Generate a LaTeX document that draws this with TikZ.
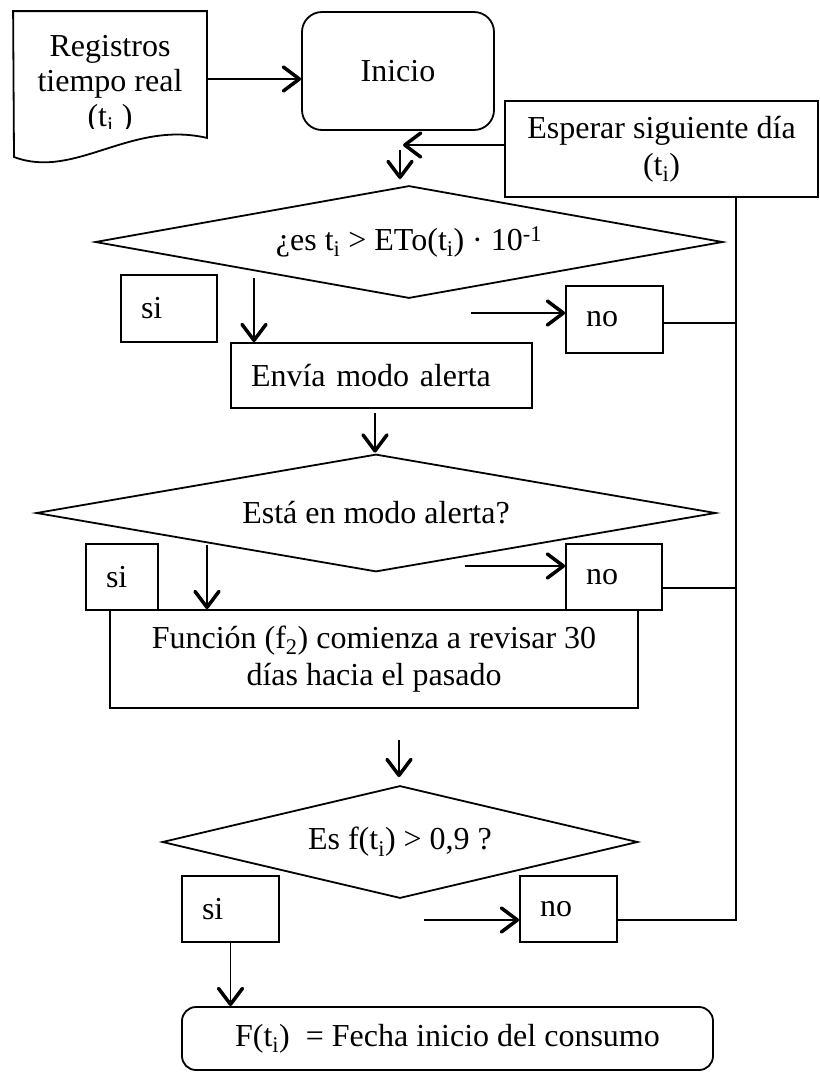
\documentclass[tikz,border=0pt]{standalone}
\usepackage{fontspec}
\setmainfont{Liberation Serif}
\usetikzlibrary{arrows.meta}

\begin{document}
\begin{tikzpicture}[x=1pt, y=-1pt, line width=1.8pt,
    font=\fontsize{32}{37}\selectfont,
    >={Straight Barb[length=16pt, width=24pt, line width=3.5pt, round]},
    box/.style={draw, rectangle, inner sep=0pt},
    lbox/.style={box, align=left, inner xsep=20pt, text width=#1},
    term/.style={draw, rectangle, rounded corners=#1, inner sep=0pt},
    decision/.style={rectangle, inner sep=0pt}]

  \useasboundingbox (0,0) rectangle (820,1072);

  % document shape for the real time records
  \node[minimum width=192pt, minimum height=125pt, inner sep=0pt]
    (reg) at (110,74.5) {};
  \draw (reg.south east) .. controls (130,120) and (75,180) .. (14,157)
        -- (reg.north west) -- (reg.north east) -- cycle;
  \begin{scope}
    \clip (reg.north west) rectangle ([yshift=9pt]reg.south east);
    \node[align=center, font=\fontsize{32}{35}\selectfont] (regtext) at (110,84)
      {Registros\\tiempo real\\(t\textsubscript{i} )};
  \end{scope}

  \node[term=20pt, minimum width=192pt, minimum height=118pt]
    (inicio) at (398,71) {Inicio};
  \node[box, minimum width=313pt, minimum height=96pt, align=center]
    (esperar) at (661.5,149) {Esperar siguiente día\\(t\textsubscript{i})};

  \node[decision, minimum width=625pt, minimum height=110pt]
    (q1) at (409,242) {¿es t\textsubscript{i} > ETo(t\textsubscript{i}) · 10\textsuperscript{-1}};
  \node[lbox=56pt, minimum height=67pt] (si1) at (169,308.5) {si};
  \node[lbox=57pt, minimum height=67pt] (no1) at (614.5,319.5) {no};
  \node[lbox=261pt, minimum height=65pt] (envia) at (381.5,375.5) {Envía modo alerta};

  \node[decision, minimum width=677pt, minimum height=115pt]
    (q2) at (376,513) {Está en modo alerta?};
  \node[lbox=32pt, minimum height=66pt] (si2) at (122,577) {si};
  \node[lbox=56pt, minimum height=66pt] (no2) at (614,577) {no};
  \node[box, minimum width=528pt, minimum height=98pt, align=center]
    (funcion) at (374,659) {Función (f\textsubscript{2}) comienza a revisar 30\\días hacia el pasado};

  \node[decision, minimum width=473pt, minimum height=110pt]
    (q3) at (400,842) {Es f(t\textsubscript{i}) > 0,9 ?};
  \node[lbox=57pt, minimum height=66pt] (si3) at (230.5,909) {si};
  \node[lbox=57pt, minimum height=66pt] (no3) at (568.5,909) {no};
  \node[term=14pt, minimum width=531pt, minimum height=63pt]
    (fin) at (447.5,1038.5) {F(t\textsubscript{i})\ \ = Fecha inicio del consumo};

  % diamonds drawn through the anchors of the question nodes
  \foreach \q in {q1,q2,q3}
    \draw (\q.west) -- (\q.north) -- (\q.east) -- (\q.south) -- cycle;

  % free ends of the short arrows
  \coordinate (rail)  at (736,197);
  \coordinate (loop)  at (403,145);
  \coordinate (start) at (400,150);
  \coordinate (q1yes) at (254,278);
  \coordinate (q1no)  at (471,313);
  \coordinate (c2)    at (375,413);
  \coordinate (q2yes) at (207,545);
  \coordinate (q2no)  at (465,566);
  \coordinate (c3)    at (399,740);
  \coordinate (q3no)  at (424,920);

  \draw[->] ([yshift=-4.5pt]reg.east) -- ([yshift=-4.5pt]reg.east -| inicio.west);
  \draw[->] ([yshift=4pt]esperar.west) -- (loop);
  \draw[->, shorten >=7pt] (start) -- (start |- q1.north);

  \draw[->] (q1yes) -- (q1yes |- envia.north);
  \draw[->] (q1no) -- (q1no -| no1.west);
  \draw ([yshift=-3.5pt]no1.east) -- ([yshift=-3.5pt]no1.east -| rail);

  \draw[->, shorten >=2pt] (c2) -- (c2 |- q2.north);
  \draw[->] (q2yes) -- (q2yes |- funcion.north);
  \draw[->] (q2no) -- (q2no -| no2.west);
  \draw ([yshift=-11pt]no2.east) -- ([yshift=-11pt]no2.east -| rail);

  \draw[->, shorten >=9pt] (c3) -- (c3 |- q3.north);
  \draw[->] (q3no) -- (q3no -| no3.west);
  \draw ([yshift=-11pt]no3.east) -- ([yshift=-11pt]no3.east -| rail) -- (rail);
  \draw[->] (si3.south) -- (si3.south |- fin.north);

\end{tikzpicture}
\end{document}
